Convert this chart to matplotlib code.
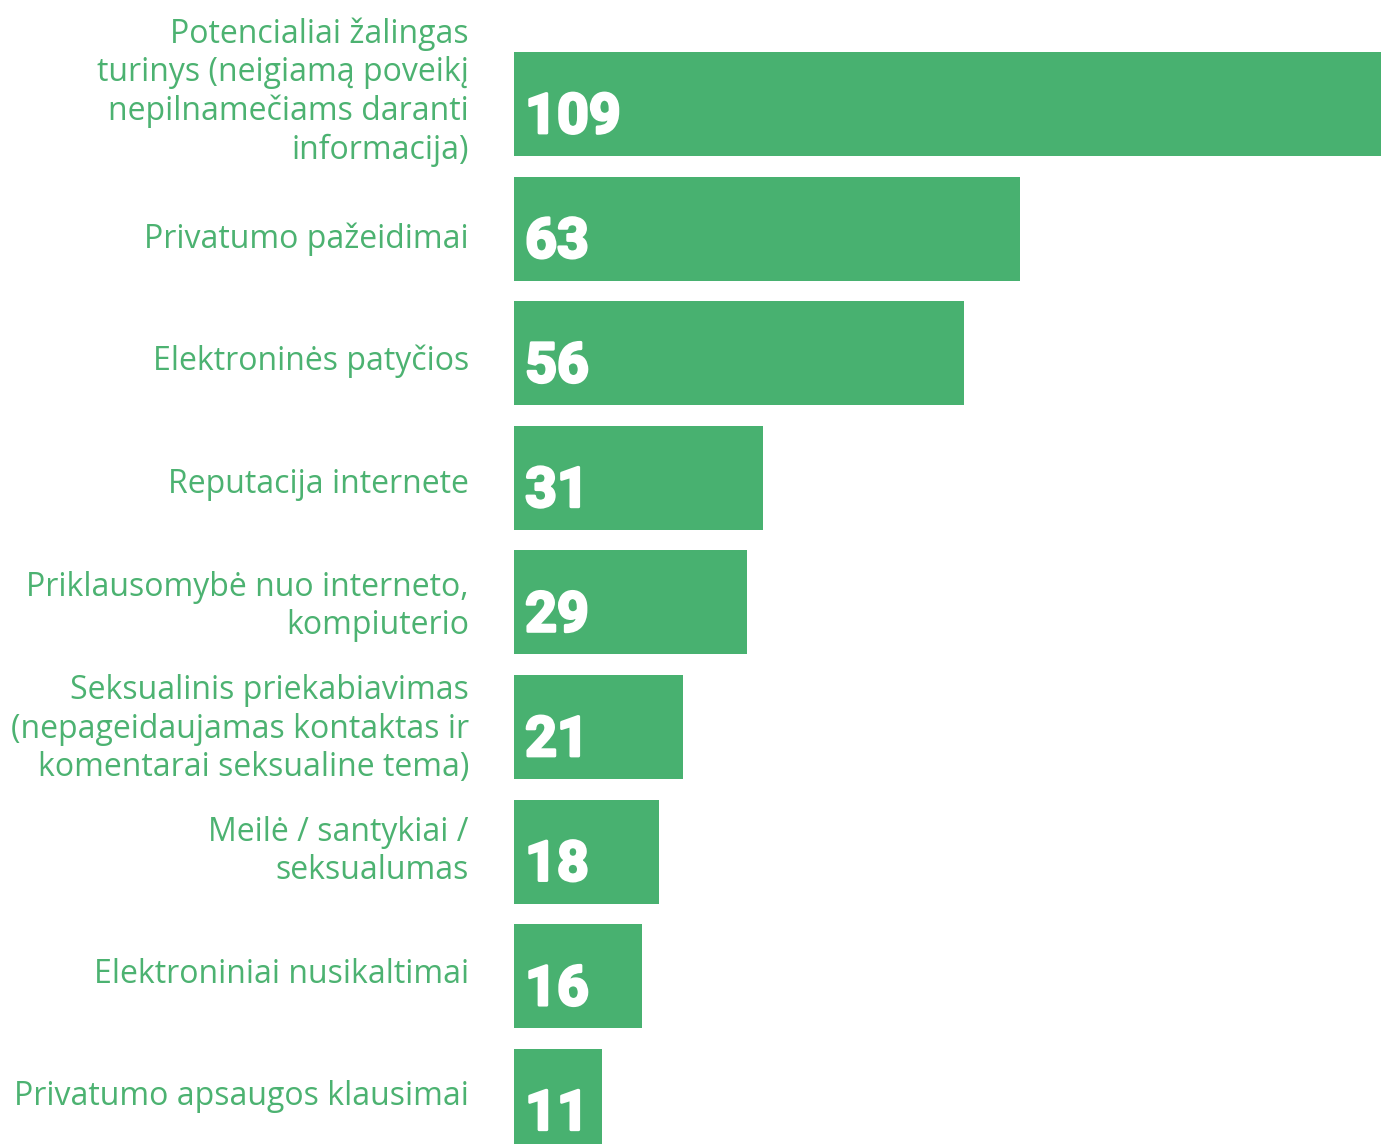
import matplotlib.pyplot as plt
import matplotlib.patheffects as pe

# Data
categories = [
    "Potencialiai žalingas\nturinys (neigiamą poveikį\nnepilnamečiams daranti\ninformacija)",
    "Privatumo pažeidimai",
    "Elektroninės patyčios",
    "Reputacija internete",
    "Priklausomybė nuo interneto,\nkompiuterio",
    "Seksualinis priekabiavimas\n(nepageidaujamas kontaktas ir\nkomentarai seksualine tema)",
    "Meilė / santykiai /\nseksualumas",
    "Elektroniniai nusikaltimai",
    "Privatumo apsaugos klausimai",
]
values = [109, 63, 56, 31, 29, 21, 18, 16, 11]

bar_color = "#48b170"
text_color = "#4cb271"

fig = plt.figure(figsize=(13.81, 11.44), dpi=100)
# axes placed where the bars live in the picture
ax = fig.add_axes([514 / 1381, 0, 1 - 514 / 1381, 1])

pos = list(range(len(values)))
ax.barh(pos, values, height=0.835, color=bar_color)
ax.set_xlim(0, 108)
ax.set_ylim(8.347, -0.835)

# big white counts, baseline a little below the bar middle
for p, v in zip(pos, values):
    ax.annotate(str(v), xy=(0, p), xytext=(8, -29 * 0.72), textcoords="offset points",
                ha="left", va="baseline", color="white", fontsize=40,
                family="Roboto", fontweight="bold",
                path_effects=[pe.withStroke(linewidth=2, foreground="white")])

# labels right aligned left of the bars; their rows are spaced a bit tighter
# than the bars, and the long first one sits higher
for p, lab in zip(pos, categories):
    shift_px = 12.2 if p == 0 else -(12.2 - 2 * p)
    ax.annotate(lab, xy=(0, p), xytext=(-45 * 0.72, shift_px * 0.72),
                textcoords="offset points", ha="right", va="center",
                fontsize=23, color=text_color, family="Open Sans",
                linespacing=1.216, annotation_clip=False)

ax.set_xticks([])
ax.set_yticks([])
for s in ax.spines.values():
    s.set_visible(False)

fig.savefig("out.png", dpi=100)
